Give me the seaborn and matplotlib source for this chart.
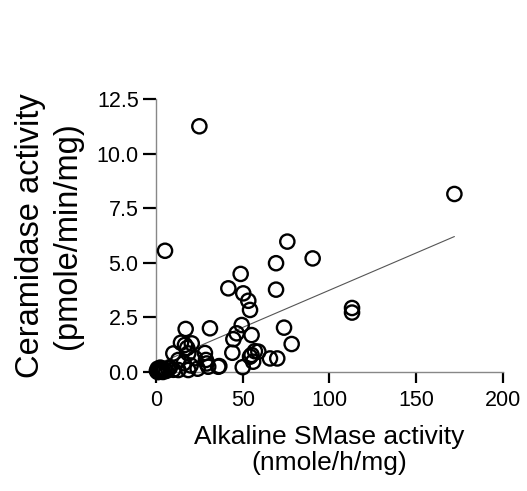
import numpy as np
import pandas as pd
import seaborn as sns
import matplotlib.pyplot as plt

# values
smase = [25.0, 5.2, 172.0, 75.7, 90.3, 69.2, 48.8, 41.7, 50.3, 53.2,
         54.2, 69.2, 113.0, 113.0, 31.1, 49.4, 46.5, 44.6, 55.1, 73.8,
         78.2, 44.0, 55.1, 57.0, 59.0, 56.0, 54.2, 65.7, 69.9, 50.0,
         36.5, 28.2, 28.8, 30.1, 17.1, 14.4, 16.7, 20.6, 18.0, 10.0,
         18.6, 22.5, 12.9, 29.2, 35.9, 18.6, 12.9, 16.0, 20.0, 24.0,
         8.0, 10.0, 0.5, 1.0, 1.5, 2.0, 2.5, 3.0, 3.5, 4.0,
         5.0, 6.0, 7.0, 1.0]
ceramidase = [11.25, 5.55, 8.15, 5.97, 5.2, 4.98, 4.49, 3.83, 3.6, 3.26,
              2.84, 3.77, 2.93, 2.72, 2.0, 2.15, 1.77, 1.5, 1.69, 2.03,
              1.28, 0.88, 0.78, 0.95, 0.93, 0.47, 0.7, 0.62, 0.62, 0.22,
              0.27, 0.87, 0.55, 0.24, 1.97, 1.34, 1.24, 1.31, 1.1, 0.85,
              0.85, 0.63, 0.55, 0.39, 0.24, 0.09, 0.09, 0.4, 0.3, 0.15,
              0.2, 0.1, 0.05, 0.15, 0.0, 0.1, 0.2, 0.05, 0.15, 0.0,
              0.1, 0.05, 0.15, 0.0]

x_ticks = [0, 50, 100, 150, 200]
y_ticks = [0.0, 2.5, 5.0, 7.5, 10.0, 12.5]

df = pd.DataFrame({'smase': smase, 'ceramidase': ceramidase})

sns.set_style("ticks")
plt.rcParams['font.family'] = ['Liberation Sans', 'DejaVu Sans']
plt.rcParams['text.color'] = 'black'
plt.rcParams['axes.labelcolor'] = 'black'

fig = plt.figure(figsize=(5.27, 4.91), dpi=100)
ax = fig.add_axes([0.296, 0.2424, 0.6584, 0.556])

# linear fit line (thin grey)
sns.regplot(data=df, x='smase', y='ceramidase', ci=None, scatter=False,
            line_kws={'color': '#555555', 'linewidth': 0.8}, ax=ax)

# open circles
sns.scatterplot(data=df, x='smase', y='ceramidase', marker='o', s=105,
                facecolor='none', edgecolor='black', linewidth=1.7,
                clip_on=False, zorder=3, ax=ax)

ax.set_xlim(0, 200)
ax.set_ylim(0, 12.5)
ax.set_xticks(x_ticks)
ax.set_xticklabels([str(t) for t in x_ticks])
ax.set_yticks(y_ticks)
ax.set_yticklabels([f"{t:.1f}" for t in y_ticks])

for side in ['top', 'right']:
    ax.spines[side].set_visible(False)
for side in ['left', 'bottom']:
    ax.spines[side].set_color('#888888')
    ax.spines[side].set_linewidth(1.0)

ax.tick_params(axis='both', colors='black', labelcolor='black', width=1.6, labelsize=15.5)
ax.tick_params(axis='x', pad=5, length=8)
ax.tick_params(axis='y', pad=3, length=9.5)

ax.set_xlabel("Alkaline SMase activity\n(nmole/h/mg)", fontsize=19, linespacing=1.1, labelpad=10)
ax.set_ylabel("Ceramidase activity\n(pmole/min/mg)", fontsize=23.5, linespacing=1.22, labelpad=10)

plt.savefig("out.png", dpi=100)
